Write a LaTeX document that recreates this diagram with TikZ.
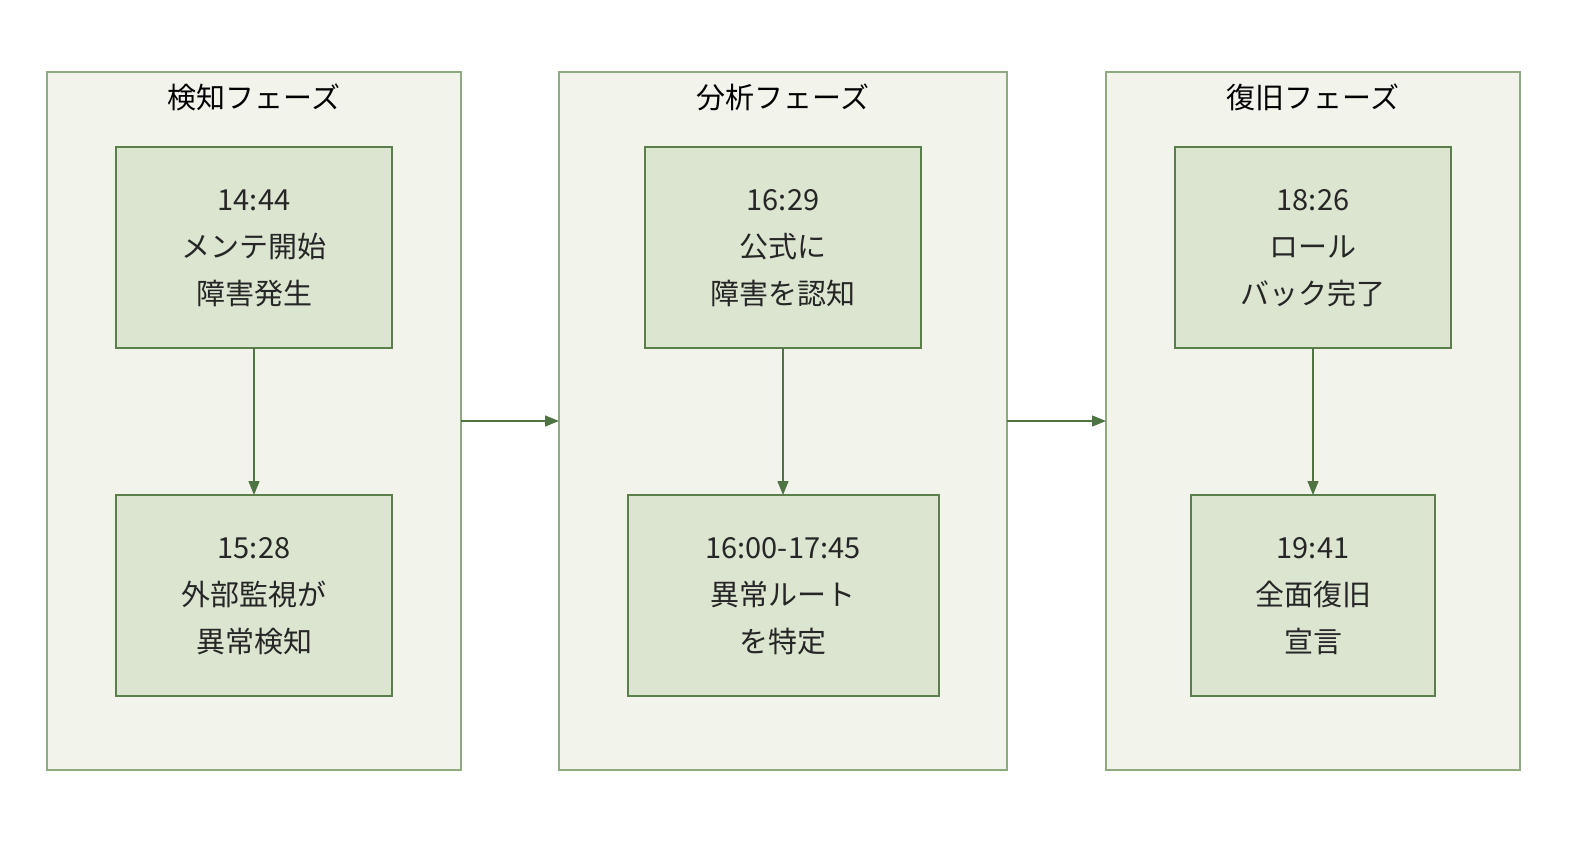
\documentclass[tikz,border=0pt]{standalone}
\usepackage{fontspec}
\setmainfont{Noto Sans CJK JP}
\usetikzlibrary{arrows.meta}
\definecolor{ofill}{HTML}{F2F4EC}
\definecolor{oline}{HTML}{8FAA80}
\definecolor{ifill}{HTML}{DCE5D0}
\definecolor{iline}{HTML}{5B7F4A}
\definecolor{arr}{HTML}{4E7443}
\begin{document}
\begin{tikzpicture}[x=1pt,y=-1pt,
 outer/.style={draw=oline,fill=ofill,line width=1.2pt},
 inner/.style={draw=iline,fill=ifill,line width=1.2pt},
 txt/.style={align=center,font=\fontsize{29}{47}\selectfont,text=black!85},
 ttl/.style={font=\fontsize{29}{34}\selectfont,text=black},
 con/.style={draw=arr,line width=1.3pt,-{Triangle[length=14pt,width=11pt]}}]
\useasboundingbox (0,0) rectangle (1592,860);
\draw[outer] (47,72) rectangle (461,770);
\draw[outer] (559,72) rectangle (1007,770);
\draw[outer] (1106,72) rectangle (1520,770);
\coordinate (o1) at (461,421); \coordinate (o2w) at (559,421);
\coordinate (o2e) at (1007,421); \coordinate (o3) at (1106,421);
\node[ttl] (t1) at (254,97) {検知フェーズ};
\node[ttl] (t2) at (783,97) {分析フェーズ};
\node[ttl] (t3) at (1313,97) {復旧フェーズ};
\draw[inner] (116,147) rectangle (392,348); \coordinate (a1s) at (254,348);
\draw[inner] (116,495) rectangle (392,696); \coordinate (a1e) at (254,495);
\draw[inner] (645,147) rectangle (921,348); \coordinate (a2s) at (783,348);
\draw[inner] (628,495) rectangle (939,696); \coordinate (a2e) at (783,495);
\draw[inner] (1175,147) rectangle (1451,348); \coordinate (a3s) at (1313,348);
\draw[inner] (1191,495) rectangle (1435,696); \coordinate (a3e) at (1313,495);
\node[txt] (n1) at (254,248) {14:44\\メンテ開始\\障害発生};
\node[txt] (n2) at (254,596) {15:28\\外部監視が\\異常検知};
\node[txt] (n3) at (783,248) {16:29\\公式に\\障害を認知};
\node[txt] (n4) at (783,596) {16:00-17:45\\異常ルート\\を特定};
\node[txt] (n5) at (1313,248) {18:26\\ロール\\バック完了};
\node[txt] (n6) at (1313,596) {19:41\\全面復旧\\宣言};
\draw[con] (a1s) -- (a1e);
\draw[con] (a2s) -- (a2e);
\draw[con] (a3s) -- (a3e);
\draw[con] (o1) -- (o2w);
\draw[con] (o2e) -- (o3);
\end{tikzpicture}
\end{document}
